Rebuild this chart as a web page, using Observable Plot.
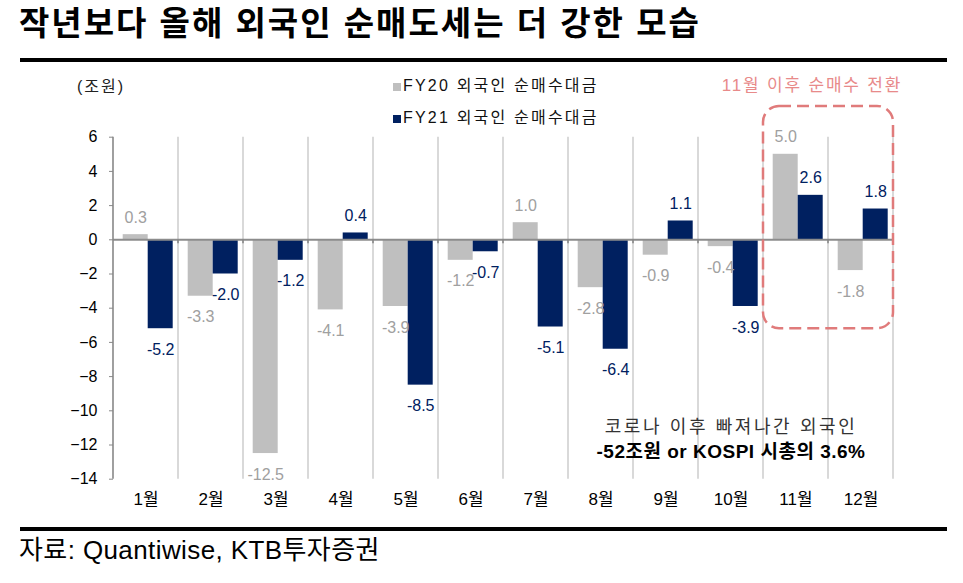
<!DOCTYPE html>
<html>
<head>
<meta charset="utf-8">
<script src="https://cdn.jsdelivr.net/npm/d3@7"></script>
<script src="https://cdn.jsdelivr.net/npm/@observablehq/plot@0.6"></script>
<style>
  html, body { margin: 0; padding: 0; background: #fff; }
  body { width: 963px; height: 583px; position: relative; overflow: hidden; }
  .abs { position: absolute; white-space: nowrap; }
  .kr { font-family: 'Liberation Sans', Arial, 'Noto Sans CJK KR', sans-serif; }
  #chart { position: absolute; left: 0; top: 0; }
</style>
</head>
<body>
<div id="chart"></div>
<div class="abs kr" id="title" style="left:19px; top:6px; font-size:33px; font-weight:bold; line-height:36px; letter-spacing:2px; color:#000;"></div>
<div class="abs" style="left:20px; top:58px; width:927px; height:4px; background:#000;"></div>
<div class="abs" style="left:20px; top:527px; width:927px; height:4px; background:#000;"></div>
<div class="abs kr" id="source" style="left:19px; top:535px; font-size:26px; line-height:30px; letter-spacing:0.4px; color:#000;"></div>
<div class="abs kr" id="unit" style="left:77px; top:77px; font-size:16px; line-height:20px; letter-spacing:2px; color:#222;"></div>
<div class="abs kr" id="legend" style="left:393px; top:76px; font-size:16px; line-height:20px; color:#111;"></div>
<script>
const months = ["1월","2월","3월","4월","5월","6월","7월","8월","9월","10월","11월","12월"];
const seriesKeys = ["FY20", "FY21"];
const seriesNames = ["FY20 외국인 순매수대금", "FY21 외국인 순매수대금"];
const fy20 = [0.3, -3.3, -12.5, -4.1, -3.9, -1.2, 1.0, -2.8, -0.9, -0.4, 5.0, -1.8];
const fy21 = [-5.2, -2.0, -1.2, 0.4, -8.5, -0.7, -5.1, -6.4, 1.1, -3.9, 2.6, 1.8];
const yTicks = [6, 4, 2, 0, -2, -4, -6, -8, -10, -12, -14];
const barColors = ["#bfbfbf", "#002060"];
const labelColors = ["#a0a0a0", "#002060"];

const titleText = "작년보다 올해 외국인 순매도세는 더 강한 모습";
const sourceText = "자료: Quantiwise, KTB투자증권";
const unitText = "(조원)";
const boxNote = "11월 이후 순매수 전환";
const boxMonths = ["11월", "12월"];
const boxRange = [7.8, -5.2];
const noteMonth = "10월";
const noteLines = ["코로나 이후 빠져나간 외국인", "-52조원 or KOSPI 시총의 3.6%"];
const noteY = [-10.95, -12.42];

const data = months.flatMap((m, i) => [
  {month: m, series: seriesKeys[0], value: fy20[i]},
  {month: m, series: seriesKeys[1], value: fy21[i]}
]);

const font = "'Liberation Sans', Arial, 'Noto Sans CJK KR', sans-serif";

function labelMark(si, positive) {
  return Plot.text(data, {
    filter: d => d.series === seriesKeys[si] && (positive ? d.value >= 0 : d.value < 0),
    fx: "month", x: "series", y: "value",
    text: d => d.value.toFixed(1),
    dy: positive ? -17 : 21,
    fill: labelColors[si],
    fontSize: 16
  });
}

const plot = Plot.plot({
  width: 963,
  height: 583,
  marginLeft: 113.3,
  marginRight: 69.7,
  marginTop: 136.7,
  marginBottom: 104.3,
  style: {fontFamily: font, fontSize: "15px", color: "#000", background: "transparent", overflow: "visible"},
  fx: {domain: months, padding: 0, label: null, axis: null},
  x: {domain: seriesKeys, paddingInner: 0.01, paddingOuter: 0.2645, align: 0.615, axis: null},
  y: {domain: [-14, 6], axis: null},
  color: {domain: seriesKeys, range: barColors},
  marks: [
    Plot.barY(data, {fx: "month", x: "series", y: "value", fill: "series"}),
    Plot.ruleY([0], {stroke: "#8c8c8c", strokeWidth: 2}),
    labelMark(0, true), labelMark(0, false),
    labelMark(1, true), labelMark(1, false),
    Plot.text([noteLines[0]], {fx: () => noteMonth, y: () => noteY[0], text: d => d, fill: "#333", fontSize: 18}),
    Plot.text([noteLines[1]], {fx: () => noteMonth, y: () => noteY[1], text: d => d, fill: "#000", fontSize: 19, fontWeight: "bold"}),
    Plot.axisY(yTicks, {tickSize: 4, tickPadding: 12, label: null, stroke: "#888", fontSize: 16}),
    Plot.axisFx({anchor: "bottom", tickSize: 0, tickPadding: 14, label: null, fontSize: 17})
  ]
});

document.getElementById("chart").appendChild(plot);

const fx = plot.scale("fx");
const y = plot.scale("y");
const bw = fx.bandwidth;
const svg = d3.select(plot);

// letter spacing of the note lines
svg.selectAll("text").filter(function() { return this.textContent === noteLines[0]; }).attr("letter-spacing", 2.6);
svg.selectAll("text").filter(function() { return this.textContent === noteLines[1]; }).attr("letter-spacing", 0.5);

// gridlines behind bars
const g = svg.insert("g", ":first-child");
months.forEach(m => {
  const xr = fx.apply(m) + bw;
  g.append("line").attr("x1", xr).attr("x2", xr).attr("y1", y.apply(6)).attr("y2", y.apply(-14))
    .attr("stroke", "#d0d0d0").attr("stroke-width", 1.6);
});
// y axis line
const x0 = fx.apply(months[0]);
svg.append("line").attr("x1", x0).attr("x2", x0).attr("y1", y.apply(6)).attr("y2", y.apply(-14))
  .attr("stroke", "#888").attr("stroke-width", 1.6);
// small category ticks on the zero line
months.forEach(m => {
  const xr = fx.apply(m) + bw;
  svg.append("line").attr("x1", xr).attr("x2", xr).attr("y1", y.apply(0)).attr("y2", y.apply(0) + 4)
    .attr("stroke", "#888").attr("stroke-width", 1.6);
});

// dashed rounded box
const bx1 = fx.apply(boxMonths[0]);
const bx2 = fx.apply(boxMonths[1]) + bw;
const by1 = y.apply(boxRange[0]);
const by2 = y.apply(boxRange[1]);
svg.append("rect").attr("x", bx1).attr("y", by1).attr("width", bx2 - bx1).attr("height", by2 - by1)
  .attr("rx", 16).attr("ry", 16).attr("fill", "none").attr("stroke", "#e07b7b")
  .attr("stroke-width", 2.5).attr("stroke-dasharray", "12 6");
svg.append("text").attr("x", (bx1 + bx2) / 2 - 16).attr("y", by1 - 19).attr("text-anchor", "middle")
  .attr("dominant-baseline", "middle").attr("fill", "#e88a8a").attr("font-size", 17)
  .attr("letter-spacing", 1.8).attr("font-family", font).text(boxNote);

// HTML text
document.getElementById("title").textContent = titleText;
document.getElementById("source").textContent = sourceText;
document.getElementById("unit").textContent = unitText;
const legend = document.getElementById("legend");
seriesNames.forEach((name, i) => {
  const row = document.createElement("div");
  row.style.cssText = `position:absolute; left:0; top:${i * 31.5}px; white-space:nowrap; letter-spacing:2.2px;`;
  const sw = document.createElement("span");
  sw.style.cssText = `display:inline-block; width:8px; height:8px; background:${barColors[i]}; margin-right:2px; vertical-align:0px;`;
  row.appendChild(sw);
  row.appendChild(document.createTextNode(name));
  legend.appendChild(row);
});
</script>
</body>
</html>
